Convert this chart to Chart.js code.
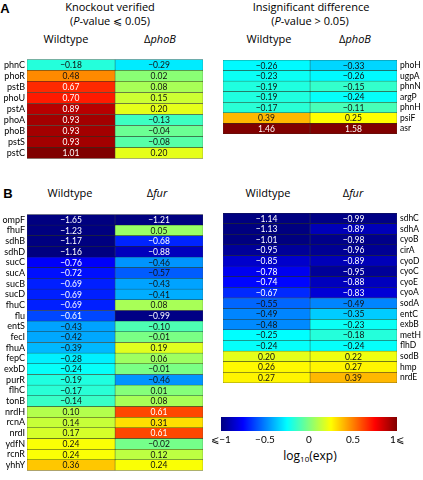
<!DOCTYPE html>
<html><head><meta charset="utf-8">
<script src="https://cdn.jsdelivr.net/npm/chart.js@4/dist/chart.umd.min.js"></script>
<style>
body{margin:0;width:423px;height:480px;position:relative;background:#fff;font-family:'Open Sans',Lato,sans-serif;overflow:hidden}
.t{position:absolute;white-space:nowrap;transform:translate(-50%,-50%);font-size:11px;color:#000;line-height:1}
.b{font-weight:bold;font-family:'Liberation Sans',Arial,sans-serif;font-size:13px}
.box{position:absolute}
sub{font-size:8px;vertical-align:-2px;line-height:0}
</style></head><body>
<div class="t b" style="left:5px;top:8px">A</div>
<div class="t" style="left:110px;top:6px">Knockout verified</div>
<div class="t" style="left:110px;top:19.5px">(<i>P</i>-value ⩽ 0.05)</div>
<div class="t" style="left:66px;top:38px">Wildtype</div>
<div class="t" style="left:160px;top:38px">Δ<i>phoB</i></div>
<div class="t" style="left:311px;top:6px">Insignificant difference</div>
<div class="t" style="left:310px;top:19.5px">(<i>P</i>-value &gt; 0.05)</div>
<div class="t" style="left:269px;top:38px">Wildtype</div>
<div class="t" style="left:355px;top:38px">Δ<i>phoB</i></div>
<div class="t b" style="left:8px;top:193px">B</div>
<div class="t" style="left:70px;top:192px">Wildtype</div>
<div class="t" style="left:157px;top:192px">Δ<i>fur</i></div>
<div class="t" style="left:268px;top:192px">Wildtype</div>
<div class="t" style="left:353px;top:192px">Δ<i>fur</i></div>
<div class="t" style="left:310px;top:456px;font-size:12px">log<sub>10</sub>(exp)</div>

<div class="box" style="left:1px;top:52px"><canvas id="aL" width="202" height="114"></canvas></div>
<div class="box" style="left:222px;top:52px"><canvas id="aR" width="201" height="90"></canvas></div>
<div class="box" style="left:1px;top:207px"><canvas id="bL" width="202" height="271"></canvas></div>
<div class="box" style="left:222px;top:205px"><canvas id="bR" width="201" height="186"></canvas></div>
<div class="box" style="left:205px;top:416px"><canvas id="cb" width="218" height="30"></canvas></div>

<script>
const aLeftGenes = ['phnC','phoR','pstB','phoU','pstA','phoA','phoB','pstS','pstC'];
const aLeftWT = [-0.18,0.48,0.67,0.70,0.89,0.93,0.93,0.93,1.01];
const aLeftKO = [-0.29,0.02,0.08,0.15,0.20,-0.13,-0.04,-0.08,0.20];

const aRightGenes = ['phoH','ugpA','phnN','argP','phnH','psiF','asr'];
const aRightWT = [-0.26,-0.23,-0.19,-0.19,-0.17,0.39,1.46];
const aRightKO = [-0.33,-0.26,-0.15,-0.24,-0.11,0.25,1.58];

const bLeftGenes = ['ompF','fhuF','sdhB','sdhD','sucC','sucA','sucB','sucD','fhuC','flu','entS','fecI','fhuA','fepC','exbD','purR','flhC','tonB','nrdH','rcnA','nrdI','ydfN','rcnR','yhhY'];
const bLeftWT = [-1.65,-1.23,-1.17,-1.16,-0.76,-0.72,-0.69,-0.69,-0.69,-0.61,-0.43,-0.42,-0.39,-0.28,-0.24,-0.19,-0.17,-0.14,0.10,0.14,0.17,0.24,0.24,0.36];
const bLeftKO = [-1.21,0.05,-0.68,-0.88,-0.46,-0.57,-0.43,-0.41,0.08,-0.99,-0.10,-0.01,0.19,0.06,-0.01,-0.46,0.01,0.08,0.61,0.31,0.61,-0.02,0.12,0.24];

const bRightGenes = ['sdhC','sdhA','cyoB','cirA','cyoD','cyoC','cyoE','cyoA','sodA','entC','exbB','metH','flhD','sodB','hmp','nrdE'];
const bRightWT = [-1.14,-1.13,-1.01,-0.95,-0.85,-0.78,-0.74,-0.67,-0.55,-0.49,-0.48,-0.25,-0.24,0.20,0.26,0.27];
const bRightKO = [-0.99,-0.89,-0.98,-0.96,-0.89,-0.95,-0.88,-0.83,-0.49,-0.35,-0.23,-0.18,-0.24,0.22,0.27,0.39];

const colorTicks = [-1,-0.5,0,0.5,1];
const colorTickLabels = ['⩽−1','−0.5','0','0.5','1⩽'];

function clamp(x){return Math.max(0,Math.min(1,x));}
function jet(v){
  const t = clamp((Math.max(-1,Math.min(1,v))+1)/2);
  const r = clamp(1.5-Math.abs(4*t-3)), g = clamp(1.5-Math.abs(4*t-2)), b = clamp(1.5-Math.abs(4*t-1));
  return `rgb(${Math.round(r*255)},${Math.round(g*255)},${Math.round(b*255)})`;
}
function fmt(v){return v.toFixed(2).replace('-','−');}

const cellText = {
  id:'cellText',
  afterDatasetsDraw(chart){
    const ctx = chart.ctx;
    chart.data.datasets.forEach((ds,di)=>{
      chart.getDatasetMeta(di).data.forEach((el,i)=>{
        const v = ds.values[i];
        const p = el.getCenterPoint();
        ctx.save();
        ctx.font = '8.5px Lato';
        ctx.fillStyle = Math.abs(v) >= 0.6 ? '#fff' : '#111';
        ctx.textAlign = 'center'; ctx.textBaseline = 'middle';
        ctx.fillText(fmt(v), p.x, p.y+0.5);
        ctx.restore();
      });
    });
  }
};

function makeHeat(id, genes, wt, ko, side, padding){
  return new Chart(document.getElementById(id), {
    type:'bar',
    data:{labels:genes, datasets:[
      {values:wt, data:genes.map(()=>1), backgroundColor:wt.map(jet)},
      {values:ko, data:genes.map(()=>1), backgroundColor:ko.map(jet)}
    ]},
    options:{
      indexAxis:'y', responsive:false, animation:false,
      layout:{padding},
      datasets:{bar:{barPercentage:1,categoryPercentage:1,borderWidth:0.5,borderColor:'#2a3320',borderSkipped:false}},
      plugins:{legend:{display:false},tooltip:{enabled:false}},
      scales:{
        x:{stacked:true,display:false,min:0,max:2},
        y:{stacked:true,position:side,grid:{display:false,drawTicks:false},border:{display:false},
           ticks:{color:'#000',font:{family:'Lato',size:side==='left'?9:8.5},padding:side==='left'?2:3,autoSkip:false},
           afterFit:s=>{s.width = side==='left'?26:24;}}
      }
    },
    plugins:[cellText]
  });
}

makeHeat('aL', aLeftGenes, aLeftWT, aLeftKO, 'left', {top:2,bottom:1,left:0,right:0});
makeHeat('aR', aRightGenes, aRightWT, aRightKO, 'right', {top:2,bottom:1,left:1,right:2});
makeHeat('bL', bLeftGenes, bLeftWT, bLeftKO, 'left', {top:2,bottom:1,left:0,right:0});
makeHeat('bR', bRightGenes, bRightWT, bRightKO, 'right', {top:2,bottom:1,left:1,right:2});

const gradientBar = {
  id:'grad',
  beforeDatasetsDraw(chart){
    const {ctx, chartArea:a, scales:{x}} = chart;
    const g = ctx.createLinearGradient(a.left,0,a.right,0);
    for(let i=0;i<=40;i++){ const v = x.min + (x.max-x.min)*i/40; g.addColorStop(i/40, jet(v)); }
    ctx.save(); ctx.fillStyle = g; ctx.fillRect(a.left,a.top,a.width,a.height); ctx.restore();
  }
};
new Chart(document.getElementById('cb'), {
  type:'scatter',
  data:{datasets:[{data:[]}]},
  options:{
    responsive:false, animation:false,
    layout:{padding:{left:16,right:26,top:1,bottom:0}},
    plugins:{legend:{display:false},tooltip:{enabled:false}},
    scales:{
      x:{type:'linear',min:colorTicks[0],max:colorTicks[colorTicks.length-1],
         afterBuildTicks:s=>{s.ticks = colorTicks.map(v=>({value:v}));},
         grid:{display:false,drawTicks:false},border:{display:false},
         ticks:{color:'#000',font:{family:'Lato',size:10},padding:3,maxRotation:0,
                callback:(v)=>colorTickLabels[colorTicks.indexOf(v)]},
         afterFit:s=>{s.height=15;}},
      y:{display:false,min:0,max:1}
    }
  },
  plugins:[gradientBar]
});
</script>
</body></html>
